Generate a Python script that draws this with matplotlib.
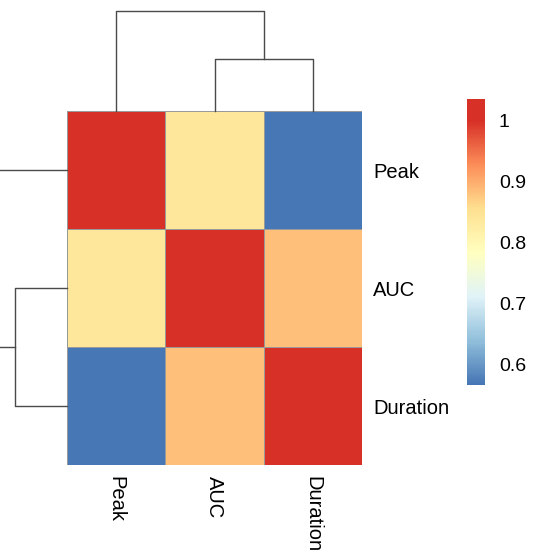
import numpy as np
import matplotlib.pyplot as plt
from matplotlib.colors import LinearSegmentedColormap

# correlation matrix (rows/cols in cluster order)
labels = ["Peak", "AUC", "Duration"]
corr = np.array([
    [1.00, 0.84, 0.57],
    [0.84, 1.00, 0.885],
    [0.57, 0.885, 1.00],
])

# dendrogram merge heights (inner: AUC+Duration, outer: Peak+rest)
merge_heights = [0.52, 1.0]

cbar_ticks = [0.6, 0.7, 0.8, 0.9, 1.0]
cbar_ticklabels = ["0.6", "0.7", "0.8", "0.9", "1"]
vmin, vmax = 0.567, 1.035

plt.rcParams['font.family'] = ['Liberation Sans', 'DejaVu Sans']

# RdYlBu reversed, reaching full red at 1 and staying red above it
palette = ["#4575B4", "#91BFDB", "#E0F3F8", "#FFFFBF",
           "#FEE090", "#FC8D59", "#D73027"]
top = (1.0 - vmin) / (vmax - vmin)
stops = [(top * i / (len(palette) - 1), c) for i, c in enumerate(palette)]
stops.append((1.0, palette[-1]))
cmap = LinearSegmentedColormap.from_list("rdylbu", stops)

W, H = 534, 556
fig = plt.figure(figsize=(W / 100, H / 100), dpi=100)

def box(x0, y0, x1, y1):
    # pixel box (top-left origin) -> figure fraction rect
    return [x0 / W, 1 - y1 / H, (x1 - x0) / W, (y1 - y0) / H]

hm_x0, hm_y0, hm_x1, hm_y1 = 67, 111, 362, 465
fs = 14.5

# heatmap
ax = fig.add_axes(box(hm_x0, hm_y0, hm_x1, hm_y1))
n = len(labels)
mesh = ax.pcolormesh(np.arange(n + 1), np.arange(n + 1), corr, cmap=cmap,
                     vmin=vmin, vmax=vmax, edgecolors="#999999", linewidth=0.6)
ax.set_xlim(0, n)
ax.set_ylim(n, 0)
ax.set_xticks(np.arange(n) + 0.5)
ax.set_xticklabels(labels, rotation=270, fontsize=fs, va="top", ha="center")
ax.set_yticks(np.arange(n) + 0.5)
ax.set_yticklabels(labels, fontsize=fs)
ax.yaxis.tick_right()
ax.tick_params(axis="y", length=0, pad=8)
ax.tick_params(axis="x", length=0, pad=8)
for s in ax.spines.values():
    s.set_visible(False)

line_kw = dict(color="#4a4a4a", lw=1.0, clip_on=False)
h1, h2 = merge_heights
centers = np.arange(n) + 0.5
mid = (centers[1] + centers[2]) / 2

# top dendrogram
axt = fig.add_axes(box(hm_x0, hm_y0 - 100, hm_x1, hm_y0))
axt.plot([centers[1], centers[1], centers[2], centers[2]], [0, h1, h1, 0], **line_kw)
axt.plot([centers[0], centers[0], mid, mid], [0, h2, h2, h1], **line_kw)
axt.set_xlim(0, n)
axt.set_ylim(0, h2)
axt.axis("off")

# left dendrogram (partly beyond the figure edge)
axl = fig.add_axes(box(hm_x0 - 100, hm_y0, hm_x0, hm_y1))
axl.plot([0, h1, h1, 0], [centers[1], centers[1], centers[2], centers[2]], **line_kw)
axl.plot([0, h2, h2, h1], [centers[0], centers[0], mid, mid], **line_kw)
axl.set_ylim(n, 0)
axl.set_xlim(h2, 0)
axl.axis("off")

# colorbar
cax = fig.add_axes(box(467, 99, 485, 385))
cb = fig.colorbar(mesh, cax=cax)
cb.outline.set_visible(False)
cb.set_ticks(cbar_ticks)
cb.set_ticklabels(cbar_ticklabels)
cax.tick_params(length=0, pad=10, labelsize=fs - 0.5)

fig.savefig("out.png", dpi=100)
